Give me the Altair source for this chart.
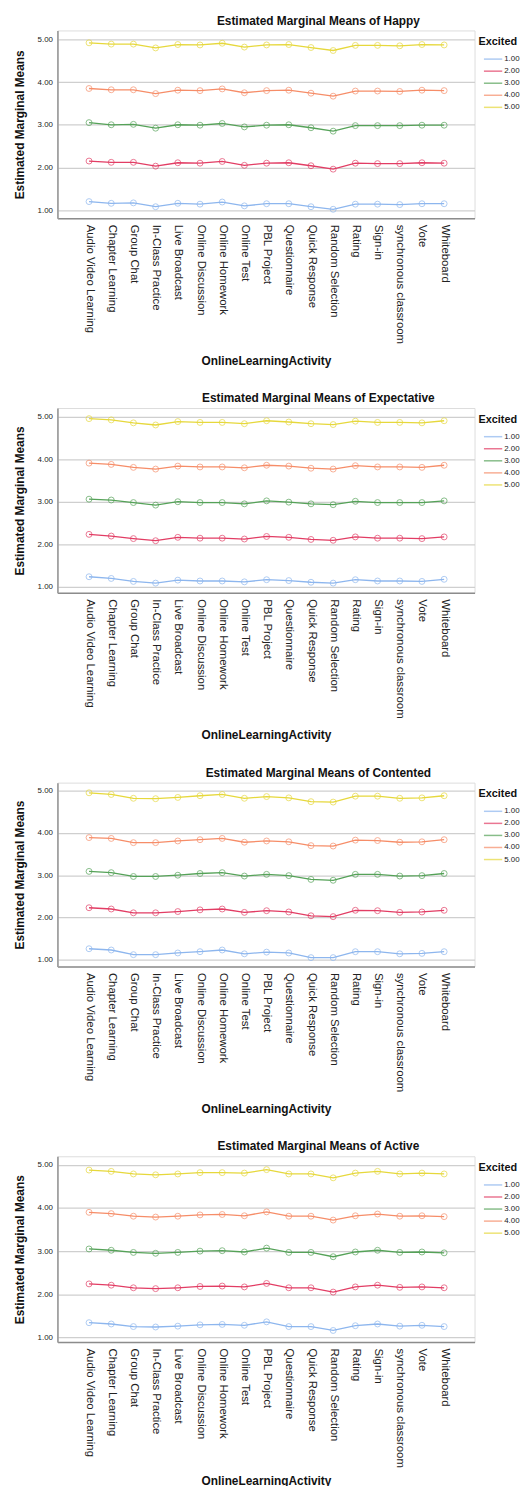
import json
import altair as alt
import pandas as pd

activities = ["Audio Video Learning", "Chapter Learning", "Group Chat", "In-Class Practice",
              "Live Broadcast", "Online Discussion", "Online Homework", "Online Test",
              "PBL Project", "Questionnaire", "Quick Response", "Random Selection",
              "Rating", "Sign-in", "synchronous classroom", "Vote", "Whiteboard"]
levels = ["1.00", "2.00", "3.00", "4.00", "5.00"]
colors = ["#8DB6EE", "#E23D64", "#55A258", "#F68D68", "#E6D83C"]

# Happy
h1 = [1.20, 1.16, 1.17, 1.08, 1.16, 1.14, 1.19, 1.10, 1.15, 1.15, 1.08, 1.02, 1.14, 1.14, 1.13, 1.15, 1.15]
h2 = [2.15, 2.12, 2.12, 2.03, 2.11, 2.10, 2.14, 2.05, 2.10, 2.11, 2.04, 1.96, 2.10, 2.09, 2.09, 2.11, 2.10]
h3 = [3.05, 3.00, 3.01, 2.92, 3.00, 2.99, 3.03, 2.95, 2.99, 3.00, 2.93, 2.85, 2.98, 2.98, 2.98, 2.99, 2.99]
h4 = [3.85, 3.82, 3.82, 3.73, 3.81, 3.80, 3.84, 3.75, 3.80, 3.81, 3.74, 3.67, 3.79, 3.79, 3.78, 3.81, 3.80]
h5 = [4.92, 4.89, 4.89, 4.80, 4.88, 4.87, 4.91, 4.82, 4.87, 4.88, 4.81, 4.74, 4.86, 4.86, 4.85, 4.88, 4.87]

# Expectative
e1 = [1.23, 1.19, 1.12, 1.08, 1.15, 1.13, 1.13, 1.11, 1.16, 1.14, 1.10, 1.08, 1.16, 1.13, 1.13, 1.12, 1.17]
e2 = [2.23, 2.19, 2.13, 2.08, 2.16, 2.14, 2.14, 2.12, 2.18, 2.16, 2.11, 2.09, 2.17, 2.14, 2.14, 2.13, 2.17]
e3 = [3.06, 3.04, 2.98, 2.92, 3.00, 2.98, 2.98, 2.95, 3.02, 2.99, 2.95, 2.93, 3.01, 2.98, 2.98, 2.98, 3.02]
e4 = [3.91, 3.88, 3.81, 3.77, 3.84, 3.82, 3.82, 3.80, 3.86, 3.84, 3.79, 3.77, 3.85, 3.82, 3.82, 3.81, 3.86]
e5 = [4.96, 4.93, 4.86, 4.81, 4.89, 4.87, 4.87, 4.84, 4.91, 4.88, 4.84, 4.82, 4.90, 4.87, 4.87, 4.86, 4.91]

# Contented
c1 = [1.26, 1.23, 1.12, 1.12, 1.16, 1.19, 1.23, 1.14, 1.18, 1.16, 1.05, 1.05, 1.19, 1.19, 1.14, 1.15, 1.19]
c2 = [2.23, 2.20, 2.11, 2.11, 2.14, 2.18, 2.20, 2.12, 2.16, 2.13, 2.04, 2.02, 2.17, 2.16, 2.12, 2.13, 2.17]
c3 = [3.09, 3.06, 2.97, 2.97, 3.00, 3.04, 3.06, 2.98, 3.02, 2.99, 2.90, 2.88, 3.02, 3.02, 2.98, 2.99, 3.04]
c4 = [3.89, 3.87, 3.77, 3.77, 3.81, 3.84, 3.87, 3.78, 3.81, 3.79, 3.70, 3.69, 3.83, 3.82, 3.78, 3.79, 3.84]
c5 = [4.95, 4.91, 4.82, 4.81, 4.84, 4.88, 4.91, 4.82, 4.86, 4.83, 4.74, 4.73, 4.87, 4.87, 4.82, 4.83, 4.88]

# Active
a1 = [1.34, 1.31, 1.25, 1.24, 1.26, 1.29, 1.30, 1.28, 1.36, 1.25, 1.25, 1.16, 1.27, 1.31, 1.26, 1.28, 1.25]
a2 = [2.24, 2.21, 2.15, 2.13, 2.15, 2.18, 2.19, 2.17, 2.25, 2.15, 2.15, 2.05, 2.17, 2.21, 2.16, 2.17, 2.15]
a3 = [3.05, 3.02, 2.97, 2.95, 2.97, 3.00, 3.01, 2.98, 3.07, 2.97, 2.97, 2.87, 2.98, 3.02, 2.97, 2.98, 2.96]
a4 = [3.90, 3.87, 3.81, 3.79, 3.81, 3.84, 3.85, 3.82, 3.91, 3.81, 3.81, 3.72, 3.82, 3.86, 3.81, 3.82, 3.80]
a5 = [4.88, 4.85, 4.79, 4.77, 4.79, 4.82, 4.82, 4.81, 4.89, 4.79, 4.79, 4.70, 4.81, 4.85, 4.79, 4.81, 4.79]

panels = [
    ("Happy", [h1, h2, h3, h4, h5], [0.81, 5.21], 190, 12),
    ("Expectative", [e1, e2, e3, e4, e5], [0.85, 5.21], 187, 12),
    ("Contented", [c1, c2, c3, c4, c5], [0.84, 5.19], 186, 12),
    ("Active", [a1, a2, a3, a4, a5], [0.89, 5.20], 188, 8),
]

FONT = "Liberation Sans"
LABEL_EXPR = json.dumps(activities) + "[datum.value]"


def make_panel(name, series, domain, height, x_title_pad):
    rows = []
    for lvl, vals in zip(levels, series):
        for i, (act, v) in enumerate(zip(activities, vals)):
            rows.append({"Activity": act, "idx": i, "Excited": lvl, "Mean": v})
    df = pd.DataFrame(rows)
    base = alt.Chart(df).encode(
        x=alt.X("idx:Q",
                scale=alt.Scale(domain=[-1.425, len(activities) - 1 + 1.37], nice=False, zero=False),
                axis=alt.Axis(title="OnlineLearningActivity", values=list(range(len(activities))),
                              labelExpr=LABEL_EXPR, labelAngle=90, labelAlign="left",
                              labelBaseline="middle", labelFlush=False, labelOverlap=False,
                              labelFontSize=11.5, labelFont=FONT, labelColor="#222222",
                              labelPadding=6, ticks=False, grid=False,
                              domainColor="#8c8c8c", domainWidth=1.5,
                              titleFont=FONT, titleFontSize=12, titleFontWeight="bold",
                              titleColor="#111111", titlePadding=x_title_pad, labelLimit=300)),
        y=alt.Y("Mean:Q",
                scale=alt.Scale(domain=domain, nice=False, zero=False),
                axis=alt.Axis(title="Estimated Marginal Means", values=[1, 2, 3, 4, 5],
                              format=".2f", labelFontSize=8, labelFont=FONT,
                              labelColor="#222222", labelPadding=5, ticks=False,
                              grid=True, gridColor="#cfcfcf", gridWidth=1.2,
                              domainColor="#a0a0a0", domainWidth=1.8,
                              titleFont=FONT, titleFontSize=12, titleFontWeight="bold",
                              titleColor="#111111", titlePadding=11)),
        color=alt.Color("Excited:N", scale=alt.Scale(domain=levels, range=colors),
                        legend=alt.Legend(title="Excited", orient="none", legendX=426, legendY=6,
                                          titleFont=FONT, titleFontSize=11, titleFontWeight="bold",
                                          titleColor="#111111", titlePadding=6,
                                          labelFont=FONT, labelFontSize=8, labelColor="#222222",
                                          symbolType="M-0.1,0L3.6,0", symbolSize=100,
                                          symbolStrokeWidth=1.5, labelOffset=14, rowPadding=2.2)),
        detail="Excited:N",
        order="idx:Q",
    )
    line = base.mark_line(strokeWidth=1.3)
    pts = base.mark_point(filled=False, size=36, strokeWidth=1)
    return alt.layer(line, pts).properties(
        width=422, height=height,
        title=alt.TitleParams(text=f"Estimated Marginal Means of {name}", font=FONT,
                              fontSize=12, fontWeight="bold", color="#111111",
                              anchor="middle", dx=53, offset=3),
    )


charts = [make_panel(*p) for p in panels]
chart = (alt.vconcat(*charts, spacing=24)
         .resolve_legend(color="independent")
         .configure_view(stroke=None)
         .configure(background="white", font=FONT,
                    padding={"left": 4, "top": -3, "right": 0, "bottom": 0}))

chart.save("out.html", embed_options={"renderer": "svg", "actions": False})
